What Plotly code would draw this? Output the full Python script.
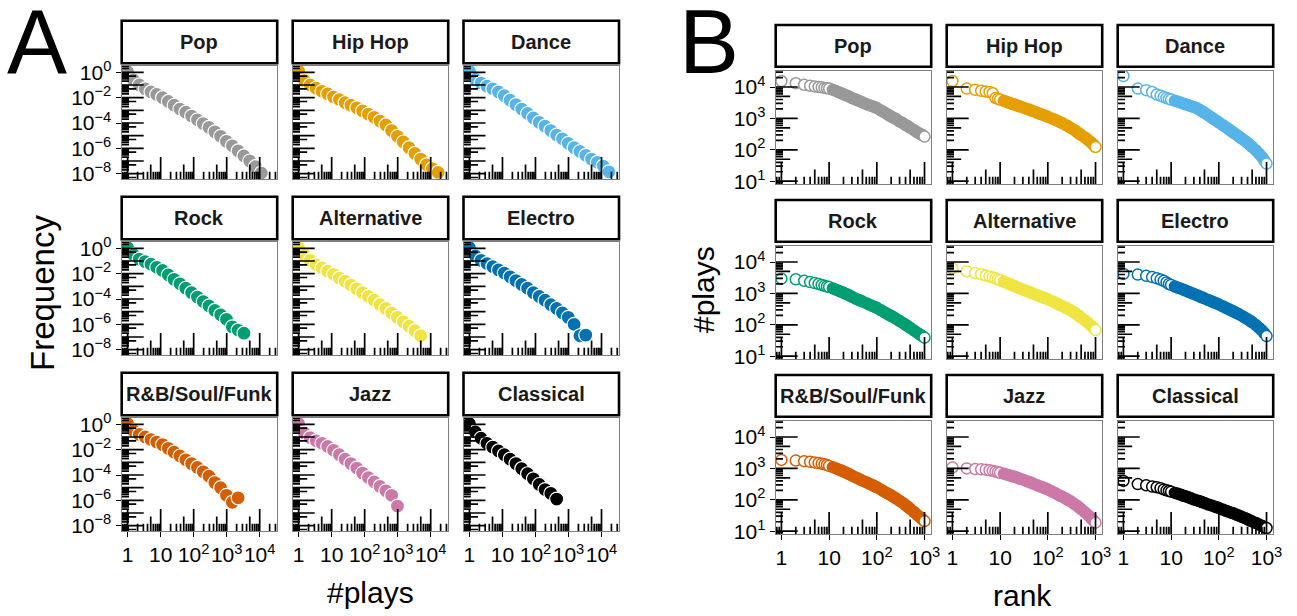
import numpy as np
import plotly.graph_objects as go

W, H = 1297, 616
FONT = "Liberation Sans, Arial, sans-serif"

genres = ["Pop", "Hip Hop", "Dance", "Rock", "Alternative", "Electro",
          "R&B/Soul/Funk", "Jazz", "Classical"]
colors = ["#999999", "#E69F00", "#56B4E9", "#009E73", "#F0E442", "#0072B2",
          "#D55E00", "#CC79A7", "#000000"]

# ---------------- Panel A: distribution of #plays (log-binned) ----------------
plays_bins = [1, 1.5, 2.25, 3.4, 5.1, 7.6, 11.4, 17.1, 25.6, 38.4, 57.7, 86.5,
              130, 195, 292, 438, 657, 985, 1480, 2220, 3330, 4990, 7480,
              11200, 16800]
# log10(frequency), one value per bin
freq_log10_pop = [0.05, -0.6, -1.0, -1.3, -1.55, -1.75, -2.0, -2.3, -2.6, -2.9,
                  -3.15, -3.45, -3.75, -4.05, -4.35, -4.7, -5.05, -5.45, -5.8,
                  -6.2, -6.6, -7.0, -7.45, -7.95]
freq_log10_hiphop = [0.08, -0.65, -1.0, -1.25, -1.5, -1.7, -1.95, -2.15, -2.4,
                     -2.6, -2.8, -3.05, -3.3, -3.55, -3.85, -4.15, -4.6, -5.05,
                     -5.5, -5.95, -6.4, -6.85, -7.3, -7.6, -7.9]
freq_log10_dance = [0.08, -0.55, -0.85, -1.1, -1.3, -1.55, -1.85, -2.2, -2.55,
                    -2.9, -3.25, -3.6, -3.95, -4.25, -4.6, -4.95, -5.25, -5.6,
                    -5.95, -6.25, -6.55, -6.85, -7.1, -7.4, -7.85]
freq_log10_rock = [0.05, -0.5, -0.85, -1.05, -1.25, -1.5, -1.75, -2.1, -2.45,
                   -2.8, -3.15, -3.5, -3.85, -4.2, -4.55, -4.9, -5.25, -5.6,
                   -6.2, -6.45, -6.7]
freq_log10_alternative = [0.05, -0.55, -0.95, -1.3, -1.55, -1.8, -2.05, -2.35,
                          -2.6, -2.9, -3.2, -3.5, -3.8, -4.1, -4.45, -4.75,
                          -5.1, -5.45, -5.8, -6.15, -6.5, -6.9]
freq_log10_electro = [0.05, -0.6, -0.95, -1.2, -1.45, -1.7, -1.95, -2.25,
                      -2.55, -2.85, -3.15, -3.5, -3.8, -4.1, -4.45, -4.75,
                      -5.1, -5.45, -6.0, -6.9, -6.85]
freq_log10_rnb = [0.05, -0.5, -0.8, -1.0, -1.2, -1.4, -1.6, -1.9, -2.2, -2.5,
                  -2.8, -3.1, -3.4, -3.75, -4.1, -4.6, -5.0, -5.6, -6.15, -5.8]
freq_log10_jazz = [0.05, -0.7, -1.05, -1.3, -1.5, -1.75, -2.05, -2.4, -2.75,
                   -3.1, -3.45, -3.85, -4.2, -4.55, -4.9, -5.25, -5.6, -6.45]
freq_log10_classical = [0.05, -0.6, -1.1, -1.5, -1.8, -2.1, -2.4, -2.75, -3.1,
                        -3.5, -3.9, -4.3, -4.75, -5.15, -5.45, -5.9]

A_series = [freq_log10_pop, freq_log10_hiphop, freq_log10_dance,
            freq_log10_rock, freq_log10_alternative, freq_log10_electro,
            freq_log10_rnb, freq_log10_jazz, freq_log10_classical]

# ---------------- Panel B: rank vs #plays ----------------
ranks = [1, 2, 3, 4, 5, 6, 7, 8, 9, 10, 12, 14, 16, 18, 20, 23, 26, 30, 35, 40,
         45, 50, 60, 70, 80, 90, 100, 120, 140, 160, 180, 200, 230, 260, 300,
         350, 400, 450, 500, 600, 700, 800, 900, 1000]
plays_log10_pop = [4.19, 4.12, 4.07, 4.04, 4.02, 4.0, 3.99, 3.97, 3.96, 3.95,
                   3.91, 3.87, 3.83, 3.80, 3.77, 3.73, 3.70, 3.65, 3.61, 3.57,
                   3.54, 3.51, 3.46, 3.42, 3.39, 3.36, 3.33, 3.26, 3.20, 3.15,
                   3.10, 3.06, 3.01, 2.97, 2.90, 2.85, 2.79, 2.75, 2.70, 2.63,
                   2.56, 2.51, 2.47, 2.42]
plays_log10_hiphop = [4.19, 3.95, 3.91, 3.88, 3.86, 3.84, 3.80, 3.65, 3.62,
                      3.60, 3.56, 3.52, 3.49, 3.46, 3.44, 3.41, 3.38, 3.35,
                      3.31, 3.28, 3.25, 3.23, 3.18, 3.14, 3.11, 3.08, 3.05,
                      3.00, 2.96, 2.92, 2.88, 2.85, 2.80, 2.76, 2.70, 2.64,
                      2.58, 2.52, 2.47, 2.39, 2.31, 2.24, 2.16, 2.09]
plays_log10_dance = [4.35, 3.95, 3.90, 3.84, 3.76, 3.72, 3.68, 3.65, 3.62,
                     3.60, 3.56, 3.53, 3.50, 3.47, 3.45, 3.42, 3.39, 3.36,
                     3.32, 3.27, 3.22, 3.18, 3.10, 3.03, 2.97, 2.92, 2.87,
                     2.79, 2.72, 2.66, 2.60, 2.55, 2.49, 2.43, 2.36, 2.29,
                     2.22, 2.15, 2.09, 1.98, 1.87, 1.77, 1.66, 1.56]
plays_log10_rock = [3.47, 3.45, 3.40, 3.36, 3.33, 3.30, 3.27, 3.24, 3.22, 3.20,
                    3.16, 3.12, 3.08, 3.05, 3.02, 2.98, 2.94, 2.89, 2.84, 2.80,
                    2.77, 2.74, 2.69, 2.64, 2.60, 2.57, 2.54, 2.47, 2.41, 2.36,
                    2.32, 2.28, 2.23, 2.18, 2.12, 2.06, 2.00, 1.95, 1.90, 1.82,
                    1.75, 1.69, 1.64, 1.59]
plays_log10_alternative = [3.80, 3.70, 3.65, 3.61, 3.57, 3.54, 3.51, 3.48,
                           3.45, 3.42, 3.37, 3.33, 3.29, 3.26, 3.23, 3.19,
                           3.16, 3.12, 3.08, 3.05, 3.02, 2.99, 2.94, 2.90,
                           2.87, 2.84, 2.81, 2.76, 2.71, 2.67, 2.63, 2.60,
                           2.55, 2.51, 2.46, 2.40, 2.34, 2.28, 2.23, 2.14,
                           2.06, 1.98, 1.90, 1.83]
plays_log10_electro = [3.62, 3.60, 3.56, 3.52, 3.48, 3.44, 3.40, 3.35, 3.30,
                       3.27, 3.22, 3.18, 3.15, 3.12, 3.09, 3.05, 3.02, 2.98,
                       2.94, 2.90, 2.87, 2.84, 2.79, 2.75, 2.71, 2.68, 2.65,
                       2.59, 2.54, 2.50, 2.46, 2.43, 2.38, 2.34, 2.29, 2.23,
                       2.18, 2.13, 2.08, 1.99, 1.90, 1.82, 1.73, 1.64]
plays_log10_rnb = [3.27, 3.25, 3.23, 3.21, 3.19, 3.17, 3.15, 3.13, 3.11, 3.08,
                   3.04, 3.00, 2.96, 2.93, 2.90, 2.86, 2.82, 2.77, 2.72, 2.68,
                   2.64, 2.61, 2.56, 2.51, 2.47, 2.43, 2.40, 2.33, 2.27, 2.22,
                   2.18, 2.14, 2.08, 2.03, 1.97, 1.90, 1.83, 1.77, 1.71, 1.61,
                   1.52, 1.45, 1.38, 1.32]
plays_log10_jazz = [3.03, 3.00, 2.98, 2.97, 2.96, 2.94, 2.92, 2.90, 2.88, 2.86,
                    2.83, 2.80, 2.77, 2.75, 2.73, 2.70, 2.67, 2.64, 2.60, 2.57,
                    2.54, 2.51, 2.46, 2.42, 2.39, 2.36, 2.33, 2.27, 2.22, 2.17,
                    2.13, 2.10, 2.05, 2.00, 1.95, 1.88, 1.82, 1.76, 1.70, 1.60,
                    1.51, 1.42, 1.34, 1.27]
plays_log10_classical = [2.60, 2.50, 2.46, 2.42, 2.40, 2.37, 2.33, 2.30, 2.28,
                         2.26, 2.22, 2.19, 2.16, 2.13, 2.11, 2.08, 2.05, 2.01,
                         1.98, 1.95, 1.92, 1.90, 1.85, 1.82, 1.79, 1.76, 1.74,
                         1.69, 1.65, 1.62, 1.59, 1.57, 1.53, 1.50, 1.46, 1.42,
                         1.38, 1.34, 1.31, 1.26, 1.21, 1.17, 1.13, 1.10]

B_series = [plays_log10_pop, plays_log10_hiphop, plays_log10_dance,
            plays_log10_rock, plays_log10_alternative, plays_log10_electro,
            plays_log10_rnb, plays_log10_jazz, plays_log10_classical]

# tick labels
A_xticks = [1, 10, 100, 1000, 10000]
A_xtext = ["1", "10", "10<sup>2</sup>", "10<sup>3</sup>", "10<sup>4</sup>"]
A_yticks = [1, 1e-2, 1e-4, 1e-6, 1e-8]
A_ytext = ["10<sup>0</sup>", "10<sup>−2</sup>", "10<sup>−4</sup>",
           "10<sup>−6</sup>", "10<sup>−8</sup>"]
B_xticks = [1, 10, 100, 1000]
B_xtext = ["1", "10", "10<sup>2</sup>", "10<sup>3</sup>"]
B_yticks = [10, 100, 1000, 10000]
B_ytext = ["10<sup>1</sup>", "10<sup>2</sup>", "10<sup>3</sup>", "10<sup>4</sup>"]

# ---------------- layout geometry (pixels) ----------------
PW, PH = 155.5, 113.0
A_cols = [121.7, 292.7, 463.5]
A_rows = [66.0, 242.0, 418.0]
B_cols = [775.7, 946.7, 1117.7]
B_rows = [71.0, 246.0, 421.0]
A_xr, A_yr = [-0.18, 4.53], [-8.42, 0.50]
B_xr, B_yr = [-0.12, 3.14], [0.91, 4.51]
TICK_LEN = {"long": 22.0, "mid": 14.5, "short": 7.3}


def logtick_list(lo, hi):
    out = []
    for k in range(int(np.floor(lo)) - 1, int(np.ceil(hi)) + 1):
        for m in range(1, 10):
            v = m * 10.0 ** k
            lv = np.log10(v)
            if lo <= lv <= hi:
                out.append((v, "long" if m == 1 else ("mid" if m == 5 else "short")))
    return out


fig = go.Figure()
layout = dict(template="none", width=W, height=H,
              margin=dict(l=0, r=0, t=0, b=0, autoexpand=False),
              paper_bgcolor="white", plot_bgcolor="white", showlegend=False,
              font=dict(family=FONT, color="black"))
shapes, annotations = [], []

for i in range(18):
    part = "A" if i < 9 else "B"
    g = i % 9
    r, c = divmod(g, 3)
    if part == "A":
        x0, top = A_cols[c], A_rows[r]
        xr, yr = A_xr, A_yr
        strip = (top - 45.3, top - 2.7)
    else:
        x0, top = B_cols[c], B_rows[r]
        xr, yr = B_xr, B_yr
        strip = (top - 46.0, top - 4.3)
    sfx = "" if i == 0 else str(i + 1)
    xref, yref = "x" + sfx, "y" + sfx

    xa = dict(domain=[x0 / W, (x0 + PW) / W], anchor=yref, type="log", range=xr,
              automargin=False, showgrid=False, zeroline=False, showline=True,
              mirror=True, linecolor="#7f7f7f", linewidth=1.4, ticks="",
              showticklabels=False, tickangle=0,
              tickfont=dict(family=FONT, size=21, color="black"))
    ya = dict(domain=[1 - (top + PH) / H, 1 - top / H], anchor=xref, type="log",
              range=yr, automargin=False, showgrid=False, zeroline=False,
              showline=True, mirror=True, linecolor="#7f7f7f", linewidth=1.4,
              ticks="", showticklabels=False,
              tickfont=dict(family=FONT, size=21, color="black"))
    if r == 2:
        xa.update(ticks="outside", ticklen=5, tickwidth=1.4, tickcolor="black",
                  showticklabels=True, tickmode="array",
                  tickvals=A_xticks if part == "A" else B_xticks,
                  ticktext=A_xtext if part == "A" else B_xtext)
    if c == 0:
        ya.update(ticks="outside", ticklen=5, tickwidth=1.4, tickcolor="black",
                  showticklabels=True, tickmode="array",
                  tickvals=A_yticks if part == "A" else B_yticks,
                  ticktext=A_ytext if part == "A" else B_ytext)
    layout["xaxis" + sfx] = xa
    layout["yaxis" + sfx] = ya

    col = colors[g]
    if part == "A":
        ylog = A_series[g]
        xs = plays_bins[:len(ylog)]
        fig.add_trace(go.Scatter(
            x=xs, y=[10.0 ** v for v in ylog], mode="markers", xaxis=xref,
            yaxis=yref, hoverinfo="skip",
            marker=dict(size=14, color=col, line=dict(color="white", width=1.2))))
    else:
        ylog = B_series[g]
        fills = ["white" if (rk <= 10 or rk == ranks[-1]) else col for rk in ranks]
        fig.add_trace(go.Scatter(
            x=ranks, y=[10.0 ** v for v in ylog], mode="markers", xaxis=xref,
            yaxis=yref, hoverinfo="skip",
            marker=dict(size=11, color=fills, line=dict(color=col, width=1.5))))

    # log ticks inside the panel (annotation_logticks style)
    ppd_x = PW / (xr[1] - xr[0])
    ppd_y = PH / (yr[1] - yr[0])
    tx, ty = [], []
    for v, kind in logtick_list(xr[0], xr[1]):
        L = TICK_LEN[kind]
        tx += [v, v, None]
        ty += [10 ** yr[0], 10 ** (yr[0] + L / ppd_y), None]
    for v, kind in logtick_list(yr[0], yr[1]):
        L = TICK_LEN[kind]
        tx += [10 ** xr[0], 10 ** (xr[0] + L / ppd_x), None]
        ty += [v, v, None]
    fig.add_trace(go.Scatter(x=tx, y=ty, mode="lines", xaxis=xref, yaxis=yref,
                             hoverinfo="skip",
                             line=dict(color="black", width=1.7)))

    # facet strip
    shapes.append(dict(type="rect", xref="paper", yref="paper",
                       x0=x0 / W, x1=(x0 + PW) / W,
                       y0=1 - strip[1] / H, y1=1 - strip[0] / H,
                       line=dict(color="black", width=2.6), fillcolor="white"))
    annotations.append(dict(text="<b>%s</b>" % genres[g], xref="paper",
                            yref="paper", x=(x0 + PW / 2) / W,
                            y=1 - (strip[0] + strip[1]) / 2 / H,
                            xanchor="center", yanchor="middle", showarrow=False,
                            font=dict(family=FONT, size=20, color="#1a1a1a")))

# titles and panel letters
annotations += [
    dict(text="A", x=37 / W, y=1 - 42 / H, font=dict(size=90)),
    dict(text="B", x=709 / W, y=1 - 42 / H, font=dict(size=90)),
    dict(text="Frequency", x=42 / W, y=1 - 293 / H, textangle=-90,
         font=dict(size=33)),
    dict(text="#plays", x=370 / W, y=1 - 592 / H, font=dict(size=30)),
    dict(text="#plays", x=703 / W, y=1 - 290 / H, textangle=-90,
         font=dict(size=30)),
    dict(text="rank", x=1022 / W, y=1 - 595 / H, font=dict(size=30)),
]
for a in annotations[-6:]:
    a.update(xref="paper", yref="paper", showarrow=False, xanchor="center",
             yanchor="middle")
    a["font"].update(family=FONT, color="black")

layout["shapes"] = shapes
layout["annotations"] = annotations
fig.update_layout(**layout)
fig.write_html("out.html", config={"displayModeBar": False},
               post_script="document.body.style.margin='0px';"
                           "document.body.style.overflow='hidden';")
